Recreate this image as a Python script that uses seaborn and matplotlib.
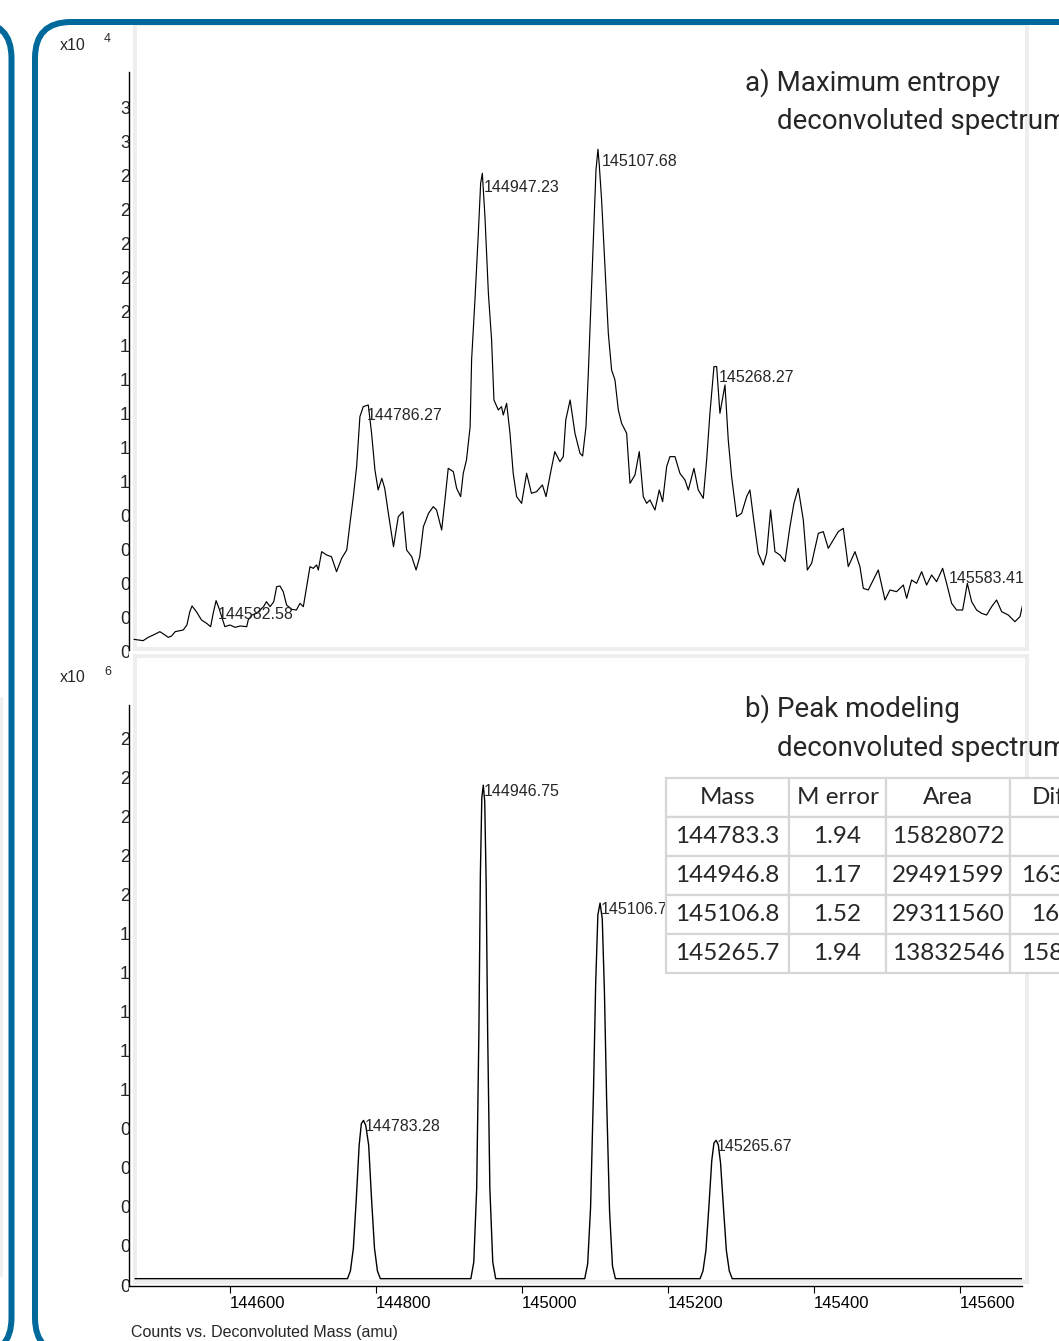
import matplotlib
matplotlib.use('Agg')
import matplotlib.pyplot as plt
import matplotlib.transforms as mtransforms
from matplotlib.patches import PathPatch, Rectangle
from matplotlib.path import Path
import seaborn as sns

W, H = 1059, 1341
BLUE = '#00699c'
PANEL_GREY = '#eeeeee'

# a) maximum entropy spectrum
TOP_MASS = [
    144468.5, 144481, 144488, 144495, 144504, 144511, 144515.5, 144520, 144525, 144536,
    144541, 144545, 144548, 144554, 144561, 144568, 144573.5, 144577, 144581, 144585,
    144593, 144600, 144607, 144614, 144623, 144625, 144630, 144636.5, 144646, 144650,
    144655, 144660, 144664, 144668.5, 144673, 144677.6, 144684.5, 144691, 144696, 144700.5,
    144705, 144709.6, 144714, 144718.7, 144721, 144725.6, 144732.4, 144739, 144746, 144753,
    144760, 144764.4, 144769, 144773.5, 144778, 144782.6, 144789.5, 144794, 144798.6, 144803,
    144808, 144812, 144817, 144824, 144830.6, 144837, 144842, 144849, 144855, 144860,
    144865, 144872, 144878.5, 144883, 144890, 144894.5, 144899, 144906, 144910.5, 144916,
    144919.6, 144924, 144929, 144931, 144935.6, 144940, 144943.4, 144945.7, 144949.3, 144954,
    144958.4, 144961.6, 144967.6, 144972, 144974.4, 144979, 144983.6, 144988, 144992.7, 144999.5,
    145006.4, 145013, 145020, 145028, 145033, 145039, 145045, 145052, 145056.6, 145060,
    145066, 145072.6, 145079.5, 145083.1, 145087.7, 145090.9, 145094, 145097.7, 145101.4, 145104.1,
    145105.9, 145109.1, 145113.7, 145118.3, 145122.8, 145127.4, 145132, 145136.5, 145143.4, 145148,
    145154.8, 145160.7, 145166.2, 145170.8, 145175.3, 145182.2, 145188.1, 145192.7, 145198.2, 145202.7,
    145209.6, 145216.4, 145223.3, 145227.9, 145235.6, 145241.5, 145248.4, 145253, 145257.5, 145263,
    145266.7, 145271.2, 145278.1, 145282.6, 145287.2, 145294.1, 145300.9, 145307.8, 145312.3, 145316.9,
    145323.7, 145330.6, 145335.2, 145340.6, 145346.6, 145353.4, 145360.3, 145367.1, 145372.6, 145378.5,
    145385.4, 145390.9, 145396.8, 145406, 145412.8, 145419.6, 145426.5, 145433.3, 145440.2, 145447,
    145456.2, 145463, 145467.6, 145474.4, 145481.3, 145488.1, 145497.3, 145504.1, 145513.2, 145522.4,
    145527, 145533.8, 145540.6, 145547.5, 145554.3, 145561.2, 145568, 145576.3, 145581.7, 145588.6,
    145595.4, 145603.7, 145610.1, 145616, 145622.8, 145629.7, 145636.5, 145643.4, 145650.2, 145657.1,
    145666.2, 145675.3, 145682.2, 145685.8,
]
TOP_COUNTS = [
    628, 549, 745, 882, 1079, 882, 745, 824, 1079, 1177,
    1471, 2255, 2589, 2255, 1765, 1569, 1373, 2157, 2902, 2451,
    1373, 1471, 1333, 1412, 1373, 1765, 2059, 2157, 2549, 2843,
    2549, 2843, 3726, 3765, 3432, 2647, 2392, 2353, 2745, 2549,
    3726, 4903, 4804, 5000, 4706, 5785, 5589, 5491, 4608, 5393,
    5883, 7452, 9021, 10786, 13727, 14315, 14413, 12747, 10589, 9413,
    10099, 9511, 8040, 6079, 7844, 8138, 5883, 5491, 4706, 5491,
    7256, 8040, 8432, 8236, 7060, 8825, 10687, 10491, 9511, 9021,
    10393, 11178, 13139, 17061, 20591, 24316, 27454, 28042, 25493, 20983,
    18237, 14708, 14119, 14315, 13825, 14511, 12747, 10393, 9021, 8628,
    10393, 9217, 9315, 9707, 9021, 10393, 11668, 11080, 11374, 13531,
    14708, 12747, 11570, 11413, 13139, 16276, 19806, 24120, 28238, 29454,
    28533, 26474, 22552, 18630, 16472, 15884, 14119, 13335, 12747, 9805,
    10295, 11668, 9021, 8628, 8825, 8236, 9413, 8726, 10786, 11374,
    11374, 10393, 10001, 9413, 10687, 9413, 8923, 11178, 13923, 16669,
    16669, 13923, 15590, 12354, 10197, 7844, 8040, 9021, 9413, 7844,
    5687, 5001, 5687, 8236, 5785, 5589, 5197, 7256, 8628, 9511,
    7648, 4706, 5099, 6864, 6962, 5981, 6471, 6962, 7158, 4903,
    5785, 4903, 3628, 3530, 4118, 4706, 2942, 3530, 3432, 3824,
    3040, 4118, 3922, 4608, 3824, 4412, 4020, 4804, 3922, 2745,
    2353, 2353, 3922, 2843, 2353, 2157, 2059, 2549, 2942, 2255,
    2059, 1667, 1961, 2647,
]
PEAKS_A = ['144582.58', '144786.27', '144947.23', '145107.68', '145268.27', '145583.41']
PEAKS_A_HEIGHT = [2700, 14400, 27800, 29300, 16600, 4800]

# b) peak modeling spectrum
BOTTOM_MASS = [
    144470,
    144761, 144765, 144769, 144773, 144777, 144780, 144783, 144786, 144790, 144794, 144798, 144802, 144806,
    144930, 144934, 144938, 144941, 144943, 144945, 144947, 144949, 144951, 144953, 144956, 144960, 144964,
    145086, 145090, 145094, 145098, 145101, 145104, 145107, 145110, 145113, 145116, 145120, 145124, 145128,
    145244, 145248, 145252, 145256, 145260, 145263, 145266, 145269, 145272, 145276, 145280, 145284, 145288,
    145685,
]
BOTTOM_COUNTS = [
    35000,
    35000, 75000, 190000, 440000, 720000, 830000, 846000, 820000, 720000, 440000, 190000, 75000, 35000,
    35000, 120000, 500000, 1300000, 2100000, 2500000, 2564000, 2480000, 2050000, 1300000, 500000, 120000, 35000,
    35000, 110000, 400000, 1000000, 1550000, 1900000, 1960000, 1880000, 1500000, 950000, 380000, 100000, 35000,
    35000, 75000, 180000, 400000, 640000, 730000, 744000, 720000, 630000, 400000, 180000, 75000, 35000,
    35000,
]
PEAKS_B = ['144783.28', '144946.75', '145106.77', '145265.67']
PEAKS_B_HEIGHT = [846000, 2564000, 1960000, 744000]

A_YTICKS = [0, 2000, 4000, 6000, 8000, 10000, 12000, 14000, 16000,
            18000, 20000, 22000, 24000, 26000, 28000, 30000, 32000]
A_YLABELS = ['0', '0.2', '0.4', '0.6', '0.8', '1.0', '1.2', '1.4', '1.6',
             '1.8', '2.0', '2.2', '2.4', '2.6', '2.8', '3.0', '3.2']
B_YTICKS = [0, 200000, 400000, 600000, 800000, 1000000, 1200000, 1400000,
            1600000, 1800000, 2000000, 2200000, 2400000, 2600000, 2800000]
B_YLABELS = ['0', '0.2', '0.4', '0.6', '0.8', '1.0', '1.2', '1.4',
             '1.6', '1.8', '2.0', '2.2', '2.4', '2.6', '2.8']
XTICKS = [144600, 144800, 145000, 145200, 145400, 145600]
XTICK_LABELS = ['144600', '144800', '145000', '145200', '145400', '145600']

TABLE_HEADER = ['Mass', 'M error', 'Area', 'Diff']
TABLE_ROWS = [
    ['144783.3', '1.94', '15828072', ''],
    ['144946.8', '1.17', '29491599', '163.5'],
    ['145106.8', '1.52', '29311560', '160'],
    ['145265.7', '1.94', '13832546', '158.9'],
]

sns.set_theme(style='white')
plt.rcParams['font.family'] = ['Liberation Sans', 'DejaVu Sans']


def frac(x0, y0, x1, y1):
    # pixel box (from top-left) -> figure fraction
    return [x0 / W, 1 - y1 / H, (x1 - x0) / W, (y1 - y0) / H]


def frame_path(xe, sign, top=22, bottom=1354, r=36, far=1300):
    # open rounded frame: one vertical edge at xe, corners bending towards sign
    verts = [(xe + sign * far, top), (xe + sign * r, top), (xe, top), (xe, top + r),
             (xe, bottom - r), (xe, bottom), (xe + sign * r, bottom), (xe + sign * far, bottom)]
    codes = [Path.MOVETO, Path.LINETO, Path.CURVE3, Path.CURVE3,
             Path.LINETO, Path.CURVE3, Path.CURVE3, Path.LINETO]
    return Path(verts, codes)


fig = plt.figure(figsize=(W / 100, H / 100), dpi=100)
fig.patch.set_facecolor('white')

# background layer in pixel units: frames, panel borders, free text
bg = fig.add_axes([0, 0, 1, 1], zorder=0)
bg.set_xlim(0, W)
bg.set_ylim(H, 0)
bg.axis('off')
bg.add_patch(Rectangle((0, 697), 3, 580, fc='#f0f0f0', ec='none'))
bg.add_patch(Rectangle((134.5, 23.5), 892, 625, fill=False, ec=PANEL_GREY, lw=4 * 0.72))
bg.add_patch(Rectangle((134.5, 656), 892, 625.5, fill=False, ec=PANEL_GREY, lw=4 * 0.72))
bg.add_patch(PathPatch(frame_path(35, 1), fill=False, ec=BLUE, lw=6 * 0.72))
bg.add_patch(PathPatch(frame_path(11.5, -1), fill=False, ec=BLUE, lw=6 * 0.72))

bg.text(60, 45, 'x10', fontsize=11.5, va='center')
bg.text(103.5, 38.5, '4', fontsize=9, va='center')
bg.text(60, 677, 'x10', fontsize=11.5, va='center')
bg.text(104.5, 671.5, '6', fontsize=9, va='center')
bg.text(131, 1332, 'Counts vs. Deconvoluted Mass (amu)', fontsize=11.5, va='center')

title_kw = dict(fontsize=20, va='center', family=['Roboto', 'DejaVu Sans'])
bg.text(745, 83, 'a) Maximum entropy', **title_kw)
bg.text(777, 121, 'deconvoluted spectrum', **title_kw)
bg.text(745, 709, 'b) Peak modeling', **title_kw)
bg.text(777, 748, 'deconvoluted spectrum', **title_kw)

XLIM = (144461, 145685)
ax_a = fig.add_axes(frac(128.5, 72, 1022, 650), zorder=1)
ax_b = fig.add_axes(frac(128.5, 705, 1022, 1285.5), zorder=1)

sns.lineplot(x=TOP_MASS, y=TOP_COUNTS, ax=ax_a, color='black', linewidth=0.85,
             estimator=None, sort=False)
sns.lineplot(x=BOTTOM_MASS, y=BOTTOM_COUNTS, ax=ax_b, color='black', linewidth=1.0,
             estimator=None, sort=False)
ax_a.set_ylim(0, 34000)
ax_b.set_ylim(0, 2.975e6)

for ax in (ax_a, ax_b):
    ax.set_facecolor('none')
    ax.set_xlim(XLIM)
    ax.set_xlabel('')
    ax.set_ylabel('')
    ax.set_yticks([])
    for side in ('top', 'right'):
        ax.spines[side].set_visible(False)
    for side in ('left', 'bottom'):
        ax.spines[side].set_color('black')
        ax.spines[side].set_linewidth(1.0)

ax_a.spines['bottom'].set_visible(False)
ax_a.set_xticks([])
ax_b.set_xticks(XTICKS, XTICK_LABELS, ha='left')
ax_b.tick_params(axis='x', direction='out', length=5, width=0.8, pad=2.5,
                 labelsize=12, colors='black', bottom=True)

# y tick labels, cut off by the axis line as in the original export
clip = mtransforms.Bbox.from_extents(0, 0, 128.5, H)
for ax, ticks, labels, dy in ((ax_a, A_YTICKS, A_YLABELS, -3.5), (ax_b, B_YTICKS, B_YLABELS, -1.5)):
    tr = (mtransforms.blended_transform_factory(ax.transAxes, ax.transData)
          + mtransforms.ScaledTranslation(0, dy / 100, fig.dpi_scale_trans))
    for v, s in zip(ticks, labels):
        t = ax.text(-8.5 / 893.5, v, s, transform=tr, ha='left', va='center',
                    fontsize=13, clip_on=True)
        t.set_clip_box(clip)

for label, h in zip(PEAKS_A, PEAKS_A_HEIGHT):
    ax_a.annotate(label, (float(label), h), xytext=(0.5, -7.2), textcoords='offset points',
                  ha='left', va='center', fontsize=11.5)
for label, h in zip(PEAKS_B, PEAKS_B_HEIGHT):
    ax_b.annotate(label, (float(label), h), xytext=(0.5, -4.5), textcoords='offset points',
                  ha='left', va='center', fontsize=11.5)

# results table
ax_t = fig.add_axes(frac(666, 778, 1094, 973), zorder=3)
ax_t.axis('off')
widths = [123, 97, 124, 84]
tab = ax_t.table(cellText=TABLE_ROWS, colLabels=TABLE_HEADER,
                 colWidths=[w / sum(widths) for w in widths],
                 cellLoc='center', bbox=[0, 0, 1, 1])
tab.auto_set_font_size(False)
tab.set_fontsize(17.5)
for cell in tab.get_celld().values():
    cell.set_edgecolor('#d6d6d6')
    cell.set_linewidth(1.6)
    cell.set_facecolor('white')
    cell.get_text().set_fontfamily(['Lato', 'DejaVu Sans'])

fig.savefig('out.png', dpi=100, facecolor='white')
